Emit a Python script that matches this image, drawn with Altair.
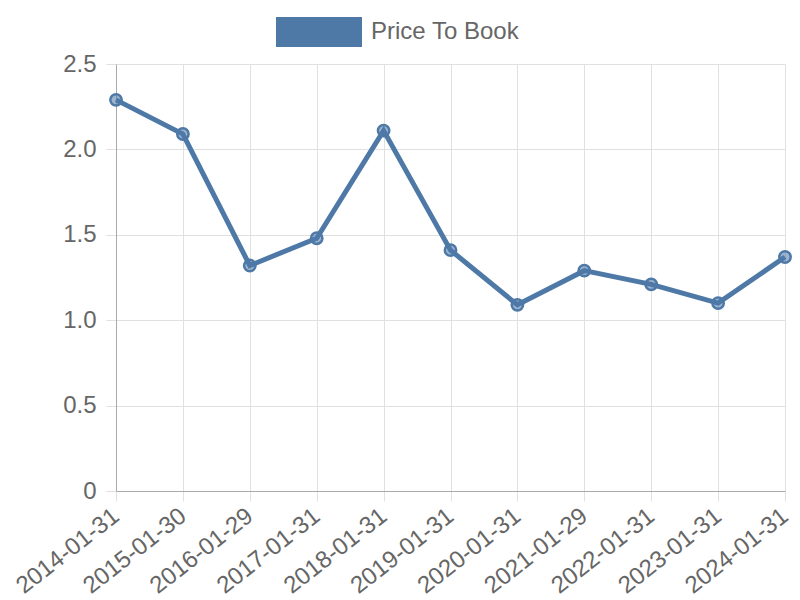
import altair as alt
import pandas as pd

dates = ["2014-01-31", "2015-01-30", "2016-01-29", "2017-01-31", "2018-01-31",
         "2019-01-31", "2020-01-31", "2021-01-29", "2022-01-31", "2023-01-31", "2024-01-31"]
values = [2.29, 2.09, 1.32, 1.48, 2.11, 1.41, 1.09, 1.29, 1.21, 1.10, 1.37]
series = ["Price To Book"] * len(dates)

df = pd.DataFrame({"date": dates, "value": values, "series": series})

color = "#4e79a7"
font = "Liberation Sans"

x = alt.X("date:O", sort=dates, scale=alt.Scale(type="point", padding=0),
          axis=alt.Axis(title=None, labelAngle=-38, labelFontSize=24, labelColor="#666",
                        labelFont=font, labelAlign="right", labelBaseline="middle",
                        grid=True, gridColor="#e0e0e0", domainColor="#aaa",
                        tickColor="#e0e0e0", tickSize=10, labelPadding=12))
y = alt.Y("value:Q", scale=alt.Scale(domain=[0, 2.5]),
          axis=alt.Axis(title=None, values=[0, 0.5, 1.0, 1.5, 2.0, 2.5],
                        labelExpr="datum.value == 0 ? '0' : format(datum.value, '.1f')",
                        labelFontSize=24, labelColor="#666", labelFont=font,
                        grid=True, gridColor="#e0e0e0", domainColor="#aaa",
                        tickColor="#e0e0e0", tickSize=10, labelPadding=10))

line = alt.Chart(df).mark_line(color=color, strokeWidth=5).encode(x=x, y=y)

points = alt.Chart(df).mark_point(filled=True, size=130, fillOpacity=0.55, stroke=color,
                                   strokeWidth=2.5, opacity=1).encode(
    x=x, y=y,
    color=alt.Color("series:N", scale=alt.Scale(range=[color]),
                    legend=alt.Legend(title=None, orient="none", legendX=160, legendY=-75,
                                      symbolType="M-1,-0.35L1,-0.35L1,0.35L-1,0.35Z",
                                      symbolSize=7396, symbolFillColor=color,
                                      symbolStrokeWidth=0, symbolOpacity=1,
                                      labelFontSize=24, labelColor="#666", labelFont=font,
                                      labelOffset=9))
)

chart = alt.layer(line, points).properties(
    width=669, height=427,
    autosize=alt.AutoSizeParams(type="none"),
    padding={"left": 108, "top": 56, "right": 7, "bottom": 109},
).configure_view(stroke=None)

chart.save("out.html", embed_options={"renderer": "svg", "actions": False})
